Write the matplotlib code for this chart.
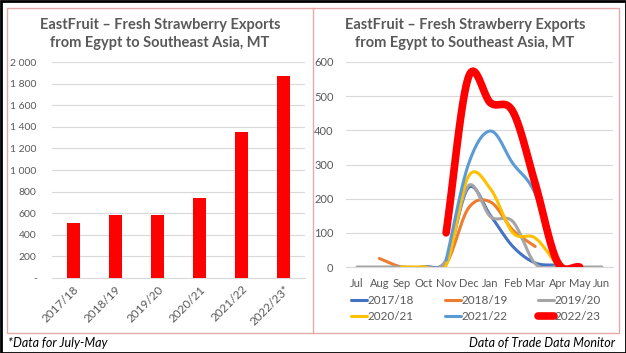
import numpy as np
import matplotlib.pyplot as plt
from matplotlib.patches import Rectangle
from matplotlib.lines import Line2D

# annual exports, MT
seasons = ['2017/18', '2018/19', '2019/20', '2020/21', '2021/22', '2022/23*']
totals = [505, 583, 583, 740, 1355, 1870]

# monthly exports, MT (None = no data)
months = ['Jul', 'Aug', 'Sep', 'Oct', 'Nov', 'Dec', 'Jan', 'Feb', 'Mar', 'Apr', 'May', 'Jun']
s1718 = [None, None, None, 0, 20, 232, 150, 60, 12, 5, None, None]
s1819 = [None, 25, 0, 0, 10, 172, 190, 108, 60, None, None, None]
s1920 = [0, 0, 0, 0, 20, 238, 147, 133, 10, 0, 0, 0]
s2021 = [None, None, 0, 0, 5, 265, 228, 100, 85, 5, None, None]
s2122 = [None, None, None, None, 20, 300, 398, 303, 215, 5, None, None]
s2223 = [None, None, None, None, 100, 555, 480, 455, 245, 15, 0, None]

series = [('2017/18', s1718, '#4472C4', 2.2),
          ('2018/19', s1819, '#ED7D31', 2.2),
          ('2019/20', s1920, '#A5A5A5', 2.2),
          ('2020/21', s2021, '#FFC000', 2.2),
          ('2021/22', s2122, '#5B9BD5', 2.2),
          ('2022/23', s2223, '#FF0000', 5.5)]

FONT = 'Lato'
GREY = '#595959'


def smooth(x, y, n=20):
    # catmull-rom curve through the points, like excel "smoothed line"
    x = np.asarray(x, float)
    y = np.asarray(y, float)
    if len(x) < 3:
        return x, y
    px = np.concatenate(([2 * x[0] - x[1]], x, [2 * x[-1] - x[-2]]))
    py = np.concatenate(([2 * y[0] - y[1]], y, [2 * y[-1] - y[-2]]))
    t = np.linspace(0, 1, n)
    xs, ys = [], []
    for i in range(1, len(px) - 2):
        for p, out in ((px, xs), (py, ys)):
            p0, p1, p2, p3 = p[i - 1], p[i], p[i + 1], p[i + 2]
            out.append(0.5 * ((2 * p1) + (-p0 + p2) * t
                              + (2 * p0 - 5 * p1 + 4 * p2 - p3) * t ** 2
                              + (-p0 + 3 * p1 - 3 * p2 + p3) * t ** 3))
    return np.concatenate(xs), np.concatenate(ys)


fig = plt.figure(figsize=(6.26, 3.53), dpi=100)
W, H = 626, 353

# panel frame
fig.patches.append(Rectangle((7 / W, 1 - 333 / H), 612 / W, 325 / H, transform=fig.transFigure,
                             fill=False, edgecolor='#E6A9A9', lw=1.0))
fig.add_artist(Line2D([313 / W, 313 / W], [1 - 333 / H, 1 - 8 / H], transform=fig.transFigure,
                      color='#E6A9A9', lw=1.0))
fig.patches.append(Rectangle((0.5 / W, 0.5 / H), 1 - 1 / W, 1 - 1 / H, transform=fig.transFigure,
                             fill=False, edgecolor='black', lw=2.0))

title = 'EastFruit – Fresh Strawberry Exports\nfrom Egypt to Southeast Asia, MT'

# left: bar chart
ax1 = fig.add_axes([52 / W, 1 - 278 / H, 253 / W, 216 / H])
ax1.bar(range(len(seasons)), totals, width=0.31, color='#FF0000', zorder=3)
ax1.set_xlim(-0.5, len(seasons) - 0.5)
ax1.set_ylim(0, 2000)
ax1.set_yticks(range(0, 2001, 200))
ax1.set_yticklabels(['-'] + ['{:,}'.format(v).replace(',', ' ') for v in range(200, 2001, 200)])
ax1.set_xticks(range(len(seasons)))
ax1.set_xticklabels(seasons, rotation=45, ha='right', rotation_mode='anchor')
ax1.grid(axis='y', color='#D9D9D9', lw=0.8, zorder=0)
fig.text(160 / W, 1 - 34 / H, title, ha='center', va='center', fontsize=10.5, fontweight='bold',
         color=GREY, family=FONT, linespacing=1.3)

# right: monthly lines
ax2 = fig.add_axes([346 / W, 1 - 267 / H, 267 / W, 205 / H])
handles = []
for name, vals, col, lw in series:
    idx = [i for i, v in enumerate(vals) if v is not None]
    xs, ys = smooth(idx, [vals[i] for i in idx])
    h, = ax2.plot(xs, ys, color=col, lw=lw, solid_capstyle='round', solid_joinstyle='round',
                  zorder=3, label=name)
    handles.append(h)
ax2.set_xlim(-0.5, 11.5)
ax2.set_ylim(0, 600)
ax2.set_yticks(range(0, 601, 100))
ax2.set_xticks(range(12))
ax2.set_xticklabels(months)
ax2.grid(axis='y', color='#D9D9D9', lw=0.8, zorder=0)
fig.text(465 / W, 1 - 34 / H, title, ha='center', va='center', fontsize=10.5, fontweight='bold',
         color=GREY, family=FONT, linespacing=1.3)
# row-wise order, as in the original legend
order = [0, 3, 1, 4, 2, 5]
ax2.legend(handles=[handles[i] for i in order], loc='upper center',
           bbox_to_anchor=(476 / W, 1 - 295 / H), bbox_transform=fig.transFigure, ncol=3,
           frameon=False, prop={'family': FONT, 'size': 8.5}, handlelength=1.35,
           handletextpad=0.05, columnspacing=2.6, labelspacing=0.45, borderaxespad=0,
           borderpad=0, labelcolor=GREY)

for ax in (ax1, ax2):
    for s in ('top', 'right', 'left'):
        ax.spines[s].set_visible(False)
    ax.spines['bottom'].set_color('#D9D9D9')
    ax.tick_params(length=0, labelsize=8, labelcolor=GREY)
    for lab in ax.get_xticklabels() + ax.get_yticklabels():
        lab.set_family(FONT)
ax1.tick_params(axis='y', pad=11, labelsize=7.5)
ax1.tick_params(axis='x', pad=4, labelsize=8.5)
ax2.tick_params(axis='y', pad=9)
ax2.tick_params(axis='x', pad=8)

fig.text(8 / W, 1 - 343 / H, '*Data for July-May', ha='left', va='center', fontsize=9,
         style='italic', family=FONT, color='black')
fig.text(615 / W, 1 - 343 / H, 'Data of Trade Data Monitor', ha='right', va='center',
         fontsize=9, style='italic', family=FONT, color='black')

fig.savefig('out.png', dpi=100)
